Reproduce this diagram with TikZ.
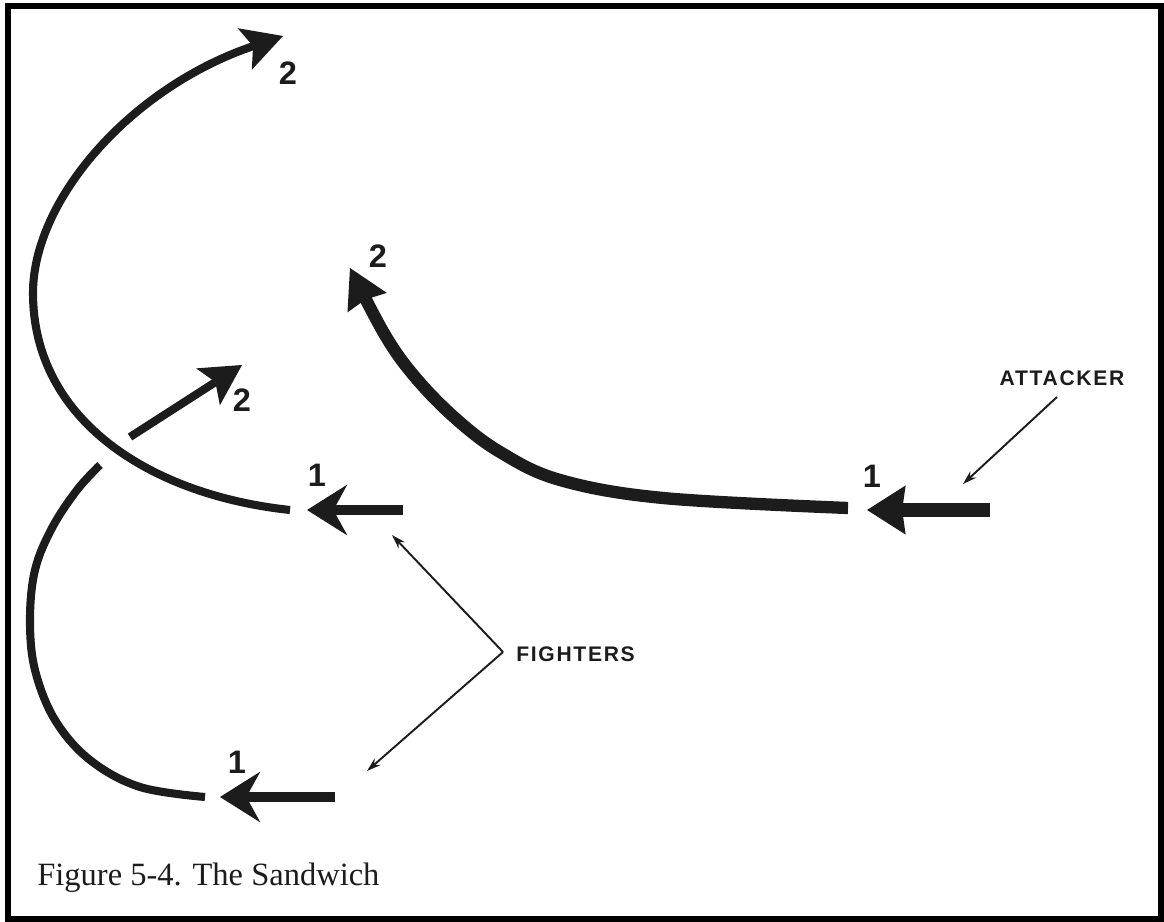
\documentclass[tikz,border=0pt]{standalone}
\usepackage{fontspec}
\setmainfont{Liberation Serif}
\newfontfamily\lblfont[LetterSpace=8]{Liberation Sans}
\newfontfamily\numfont{Liberation Sans}
\usetikzlibrary{arrows.meta}
\definecolor{ink}{RGB}{28,28,28}
\begin{document}
\begin{tikzpicture}[x=0.02cm,y=-0.02cm,
  ink/.style={draw=ink},
  fcurve/.style={ink, line width=4.6pt},
  fshaft/.style={ink, line width=5.7pt},
  acurve/.style={ink, line width=7pt},
  ashaft/.style={ink, line width=8.5pt},
  ftip/.style={-{Stealth[length=23pt,width=29pt,inset=8pt,line width=0pt,fill=ink]}},
  ftwo/.style={-{Stealth[length=23pt,width=25pt,inset=5pt,line width=0pt,fill=ink]}},
  atip/.style={-{Stealth[length=22pt,width=28pt,inset=2pt,line width=0pt,fill=ink]}},
  atwo/.style={-{Stealth[length=22pt,width=25pt,inset=2pt,line width=0pt,fill=ink]}},
  pointer/.style={ink, line width=1.1pt, -{Stealth[length=8pt,width=5pt,fill=ink]}},
  num/.style={text=ink, font=\numfont\bfseries\fontsize{18.5}{18.5}\selectfont, inner sep=0pt},
  lbl/.style={text=ink, font=\lblfont\bfseries\fontsize{12}{12}\selectfont, inner sep=0pt}
]
\useasboundingbox (0,0) rectangle (1164,922);
\draw[line width=3.4pt] (8,6) rectangle (1161,919);

% ---------- upper fighter ----------
\coordinate (uf1s) at (403,510);
\coordinate (uf1t) at (307,510);
\draw[fshaft, ftip] (uf1s) -- (uf1t);
\node[num] (uf1) at (317,475) {1};
\coordinate (uf0) at (290,510);
\coordinate (ufw) at (33,293);
\coordinate (uf2t) at (283,36);
\draw[fcurve, ftwo] (uf0) .. controls (150,495) and (33,420) .. (ufw)
  .. controls (33,200) and (130,88) .. (uf2t);
\node[num] (uf2) at (288,73) {2};

% ---------- lower fighter ----------
\coordinate (lf1s) at (335,797);
\coordinate (lf1t) at (220,797);
\draw[fshaft, ftip] (lf1s) -- (lf1t);
\node[num] (lf1) at (237,762) {1};
\draw[fcurve] plot[smooth, tension=0.6] coordinates
  {(205,797) (140,787) (90,760) (55,720) (35,670) (30,620) (35,570) (52,528) (77,490) (100,465)};
\coordinate (lf2s) at (130,437);
\coordinate (lf2t) at (242,365);
\draw[fcurve, ftwo] (lf2s) -- (lf2t);
\node[num] (lf2) at (242,400) {2};

% ---------- attacker ----------
\coordinate (a1s) at (990,510);
\coordinate (a1t) at (867,510);
\draw[ashaft, atip] (a1s) -- (a1t);
\node[num] (a1) at (872,476) {1};
\draw[acurve, atwo] plot[smooth, tension=0.6] coordinates
  {(848,508) (663,498) (560,480) (500,452) (455,418) (415,377) (385,335) (350,268)};
\node[num] (a2) at (378,256) {2};

% ---------- labels ----------
\node[lbl] (att) at (1062,378) {ATTACKER};
\coordinate (attP) at (1057,397);
\coordinate (attT) at (963,484);
\draw[pointer] (attP) -- (attT);

\node[lbl, anchor=west] (fig) at (516,654) {FIGHTERS};
\coordinate (figV) at (503,652);
\coordinate (figU) at (392,535);
\coordinate (figD) at (367,771);
\draw[pointer] (figV) -- (figU);
\draw[pointer] (figV) -- (figD);

% ---------- caption ----------
\node[anchor=base west, inner sep=0pt, text=ink, font=\fontsize{18.5}{21}\selectfont] (cap) at (37,885) {Figure 5-4. The Sandwich};
\end{tikzpicture}
\end{document}
